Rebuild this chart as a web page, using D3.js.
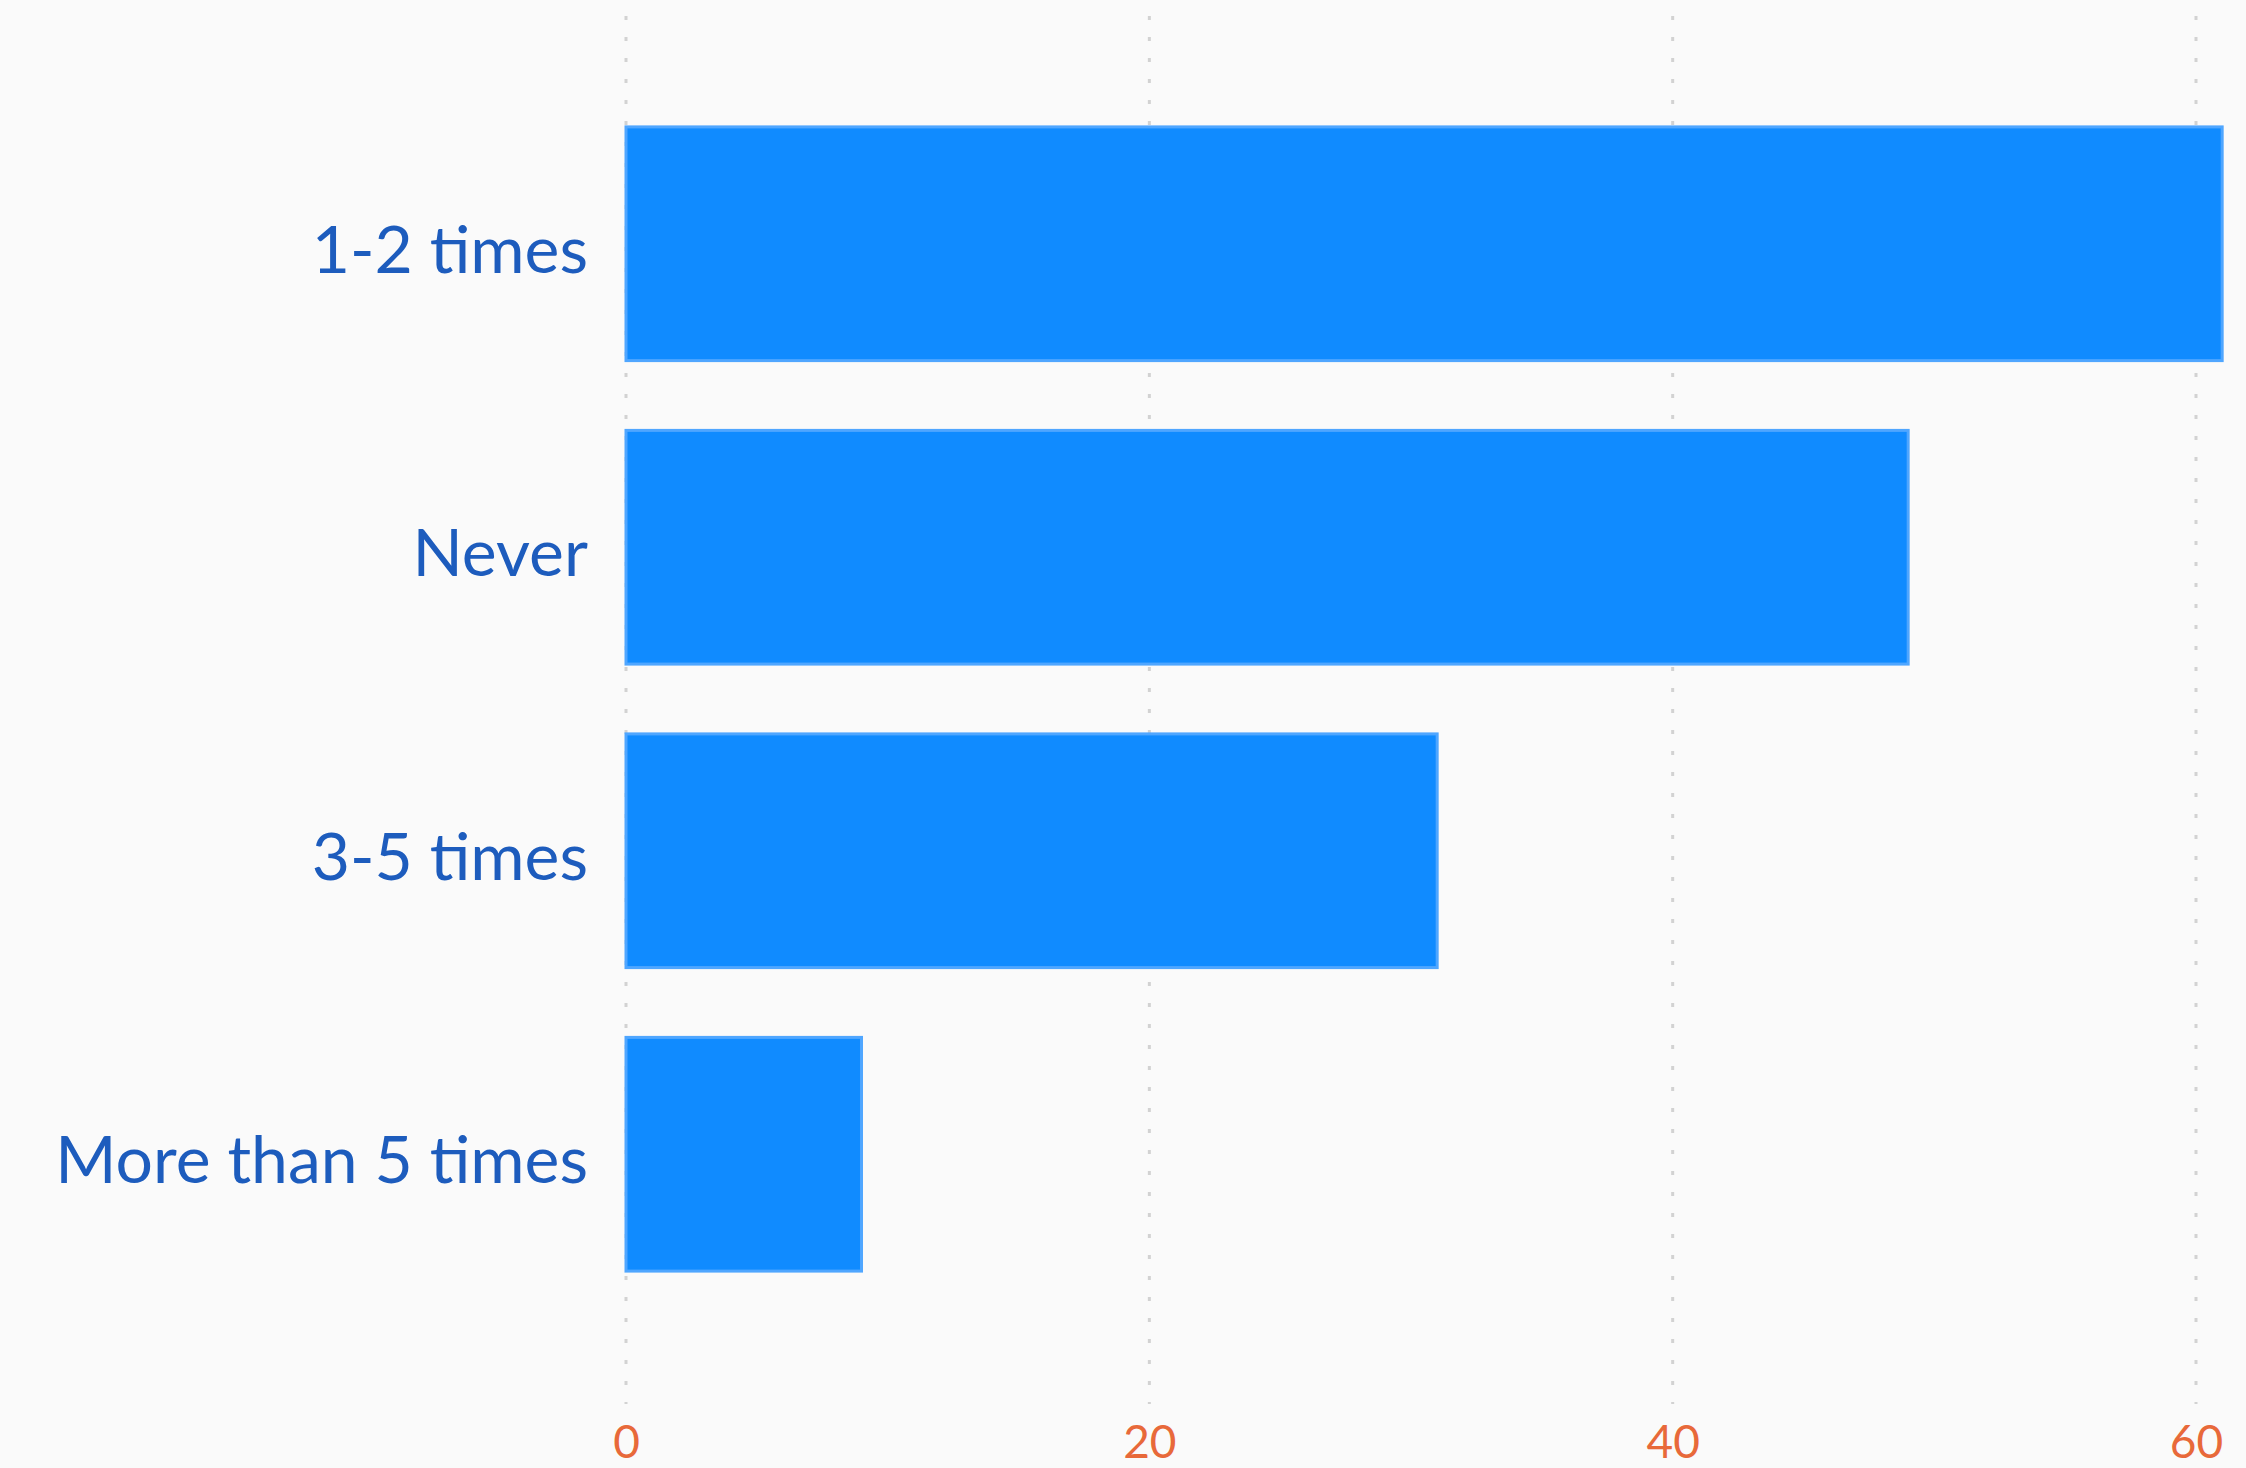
<!DOCTYPE html>
<html>
<head>
<meta charset="utf-8">
<script src="https://cdn.jsdelivr.net/npm/d3@7"></script>
<style>
    html, body { margin: 0; padding: 0; background: #fafafa; }
    svg { display: block; }
</style>
</head>
<body>
<div id="chart"></div>
<script>
// data
const categories = ["1-2 times", "Never", "3-5 times", "More than 5 times"];
const counts = [61, 49, 31, 9];
const tickValues = [0, 20, 40, 60];

document.addEventListener("DOMContentLoaded", function(){
    const width = 2246;
    const height = 1468;

    const svg = d3.select("#chart").append("svg")
        .attr("width", width)
        .attr("height", height)
        .style("background", "#fafafa");

    // scales
    const x = d3.scaleLinear().domain([0, 60]).range([626, 2196]);
    const y = d3.scaleBand().domain(categories).range([92, 1306]).paddingInner(0.23).paddingOuter(0.115);

    // dotted vertical gridlines
    svg.append("g").selectAll("line")
        .data(tickValues)
        .join("line")
        .attr("x1", d => x(d)).attr("x2", d => x(d))
        .attr("y1", 16).attr("y2", 1404)
        .attr("stroke", "#d2d2d2")
        .attr("stroke-width", 3)
        .attr("stroke-dasharray", "4,17");

    // bars
    svg.append("g").selectAll("rect")
        .data(categories)
        .join("rect")
        .attr("x", x(0))
        .attr("y", d => y(d))
        .attr("width", (d, i) => x(counts[i]) - x(0))
        .attr("height", y.bandwidth())
        .attr("fill", "#108bff")
        .attr("stroke", "#4fa6ff")
        .attr("stroke-width", 3);

    // category labels
    svg.append("g").selectAll("text")
        .data(categories)
        .join("text")
        .attr("x", 588)
        .attr("y", d => y(d) + y.bandwidth() / 2 + 29)
        .attr("text-anchor", "end")
        .attr("font-family", "Lato, sans-serif")
        .attr("font-size", 66)
        .attr("fill", "#1d5cbd")
        .text(d => d);

    // x axis labels
    const xAxis = d3.axisBottom(x).tickValues(tickValues).tickSize(0).tickPadding(0);
    const axisG = svg.append("g")
        .attr("transform", "translate(0, 1420)")
        .call(xAxis);
    axisG.select(".domain").remove();
    axisG.selectAll("text")
        .attr("dy", null)
        .attr("y", 38)
        .attr("font-family", "Lato, sans-serif")
        .attr("font-size", 46)
        .attr("fill", "#e8693a");
});
</script>
</body>
</html>
